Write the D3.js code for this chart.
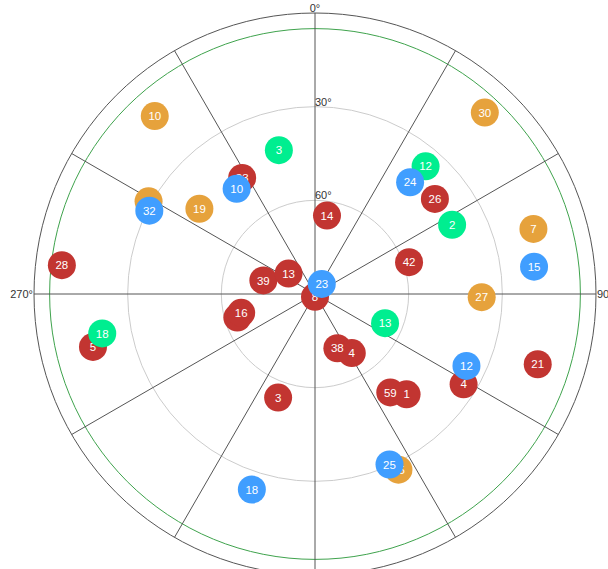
<!DOCTYPE html>
<html>
<head>
<meta charset="utf-8">
<script src="https://cdn.jsdelivr.net/npm/d3@7/dist/d3.min.js"></script>
<style>
  html, body { margin: 0; padding: 0; background: #fff; overflow: hidden; }
  svg { display: block; font-family: "Liberation Sans", Arial, sans-serif; }
</style>
</head>
<body>
<svg id="chart" width="608" height="569"></svg>
<script>
// ---- data (azimuth in degrees clockwise from north, elevation in degrees) ----
const constellations = ["BDS", "GLONASS", "Galileo", "GPS"];
const seriesColors = ["#c23531", "#e6a23c", "#00ee90", "#409eff"];

const bdsIds = ["28", "33", "39", "13", "", "16", "5", "3", "8", "14", "42", "26", "38", "4", "59", "1", "4", "21"];
const bdsAz  = [276.5, 327.9, 284.7, 307.7, 253.1, 255.7, 256.6, 199.6, 180.0, 8.7, 71.3, 51.6, 157.6, 148.1, 142.6, 137.6, 121.3, 107.5];
const bdsEl  = [8.4, 46.1, 72.9, 79.3, 64.0, 65.6, 16.9, 54.8, 89.1, 64.6, 58.2, 41.0, 71.2, 67.7, 50.3, 46.5, 34.3, 15.2];

const gloIds = ["10", "32", "19", "30", "7", "27", "25"];
const gloAz  = [318.0, 299.1, 306.4, 43.1, 73.4, 91.1, 154.6];
const gloEl  = [13.3, 29.0, 44.0, 10.4, 17.0, 36.6, 27.7];

const galIds = ["3", "12", "2", "13", "18"];
const galAz  = [345.9, 40.9, 63.2, 112.6, 259.5];
const galEl  = [42.5, 35.9, 40.8, 65.7, 20.7];

const gpsIds = ["10", "32", "24", "15", "23", "12", "25", "18"];
const gpsAz  = [323.3, 296.7, 40.4, 82.9, 33.8, 115.4, 156.4, 197.9];
const gpsEl  = [48.0, 30.6, 43.0, 19.3, 86.1, 36.3, 30.4, 24.2];

const azimuthTicks = [0, 30, 60, 90, 120, 150, 180, 210, 240, 270, 300, 330];
const azimuthLabels = ["0°", "90°", "270°"];
const azimuthLabelAngles = [0, 90, 270];
const elevationRings = [30, 60];
const elevationLabels = ["30°", "60°"];
const elevationMask = 5;

// ---- layout ----
const cx = 315, cy = 294, R = 281;
const svg = d3.select("#chart");
const g = svg.append("g").attr("transform", `translate(${cx},${cy})`);

const rScale = d3.scaleLinear().domain([90, 0]).range([0, R]);
const aScale = d3.scaleLinear().domain([0, 360]).range([0, 2 * Math.PI]);
const px = (az, el) => rScale(el) * Math.sin(aScale(az));
const py = (az, el) => -rScale(el) * Math.cos(aScale(az));

// elevation rings
g.selectAll("circle.ring").data(elevationRings).join("circle")
  .attr("class", "ring").attr("r", d => rScale(d))
  .attr("fill", "none").attr("stroke", "#cccccc").attr("stroke-width", 1);

// elevation mask
g.append("circle").attr("r", rScale(elevationMask))
  .attr("fill", "none").attr("stroke", "#3fa34d").attr("stroke-width", 1);

// outer circle
g.append("circle").attr("r", rScale(0))
  .attr("fill", "none").attr("stroke", "#555").attr("stroke-width", 1);

// radial lines
g.selectAll("line.spoke").data(azimuthTicks).join("line")
  .attr("class", "spoke")
  .attr("x1", 0).attr("y1", 0)
  .attr("x2", d => px(d, 0)).attr("y2", d => py(d, 0))
  .attr("stroke", "#555").attr("stroke-width", 1);

// azimuth labels
g.selectAll("text.az").data(azimuthLabelAngles).join("text")
  .attr("class", "az")
  .attr("x", d => px(d, 0) + (d === 90 ? 1 : d === 270 ? -1 : 0))
  .attr("y", d => py(d, 0) + (d === 0 ? -1 : 0))
  .attr("dy", d => (d === 90 || d === 270) ? "0.35em" : 0)
  .attr("text-anchor", d => d === 90 ? "start" : d === 270 ? "end" : "middle")
  .attr("font-size", 11).attr("fill", "#333")
  .text((d, i) => azimuthLabels[i]);

// elevation labels
g.selectAll("text.el").data(elevationRings).join("text")
  .attr("class", "el")
  .attr("x", 0).attr("y", d => -rScale(d) - 1)
  .attr("text-anchor", "start")
  .attr("font-size", 11).attr("fill", "#333")
  .text((d, i) => elevationLabels[i]);

// satellites: per series, circles first then labels
const groups = [
  { ids: bdsIds, az: bdsAz, el: bdsEl },
  { ids: gloIds, az: gloAz, el: gloEl },
  { ids: galIds, az: galAz, el: galEl },
  { ids: gpsIds, az: gpsAz, el: gpsEl }
];

groups.forEach((s, si) => {
  const pts = s.ids.map((id, i) => ({ id, az: s.az[i], el: s.el[i] }));
  const sg = g.append("g").attr("class", "sat-" + constellations[si]);
  sg.selectAll("circle").data(pts).join("circle")
    .attr("cx", d => px(d.az, d.el)).attr("cy", d => py(d.az, d.el))
    .attr("r", 14).attr("fill", seriesColors[si]);
  sg.selectAll("text").data(pts).join("text")
    .attr("x", d => px(d.az, d.el)).attr("y", d => py(d.az, d.el))
    .attr("text-anchor", "middle").attr("dy", "0.36em")
    .attr("font-size", 11.5).attr("fill", "#fff").text(d => d.id);
});
</script>
</body>
</html>
